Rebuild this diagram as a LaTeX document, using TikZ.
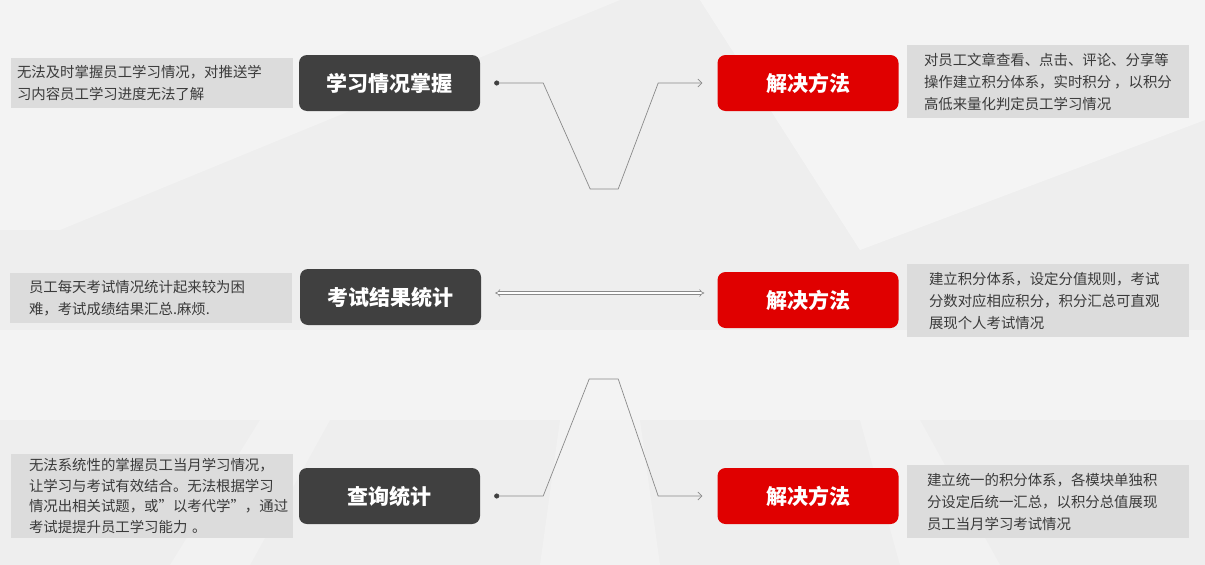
\documentclass[tikz,border=0pt]{standalone}
\usepackage{fontspec}
\setmainfont{Noto Sans CJK SC}
\usetikzlibrary{arrows.meta, positioning, calc}
\definecolor{boxdark}{HTML}{404040}
\definecolor{boxred}{HTML}{E00000}
\definecolor{descbg}{HTML}{DCDCDC}
\definecolor{desctext}{HTML}{3A3A3A}
\definecolor{linegray}{HTML}{8A8A8A}
\definecolor{pagebg}{HTML}{EEEEEE}

\tikzset{
  topic/.style={fill=boxdark, text=white, rounded corners=8pt, minimum width=181pt,
    minimum height=56pt, font=\fontsize{21}{21}\selectfont\bfseries},
  answer/.style={topic, fill=boxred},
  desc/.style={fill=descbg, text=desctext, align=left, inner ysep=0pt,
    font=\fontsize{14.4}{22}\selectfont},
  link/.style={draw=linegray, line width=0.7pt, shorten <=14pt, shorten >=15pt,
    {Circle[length=5pt, color=boxdark]}-{Straight Barb[length=4pt, width=8pt]}},
  dbl/.style={draw=linegray, line width=0.6pt, double=white, double distance=2pt,
    shorten <=14pt, shorten >=13pt, {Implies}-{Implies}},
}

\begin{document}
\begin{tikzpicture}[x=1pt, y=-1pt]
  \useasboundingbox (0,0) rectangle (1205,565);

  % Background
  \fill[pagebg] (0,0) rectangle (1205,565);
  \fill[white, opacity=0.3] (0,0) -- (620,0) -- (60,230) -- (0,230) -- cycle;
  \fill[white, opacity=0.4] (700,0) -- (1205,0) -- (1205,120) -- (860,250) -- cycle;
  \fill[white, opacity=0.3] (0,330) -- (1205,330) -- (1205,420) -- (0,420) -- cycle;
  \fill[white, opacity=0.25] (560,420) -- (640,420) -- (660,565) -- (540,565) -- cycle;
  \fill[white, opacity=0.25] (860,420) -- (920,420) -- (1000,565) -- (900,565) -- cycle;
  \fill[white, opacity=0.25] (260,420) -- (330,420) -- (250,565) -- (170,565) -- cycle;

  % Topics
  \node[topic] (q1) at (389.5,83) {学习情况掌握};
  \node[topic] (q2) at (390.5,297) {考试结果统计};
  \node[topic] (q3) at (389.5,496) {查询统计};

  % Solutions
  \node[answer] (s1) at (808,83) {解决方法};
  \node[answer] (s2) at (808,300) {解决方法};
  \node[answer] (s3) at (808,496) {解决方法};

  % Problems
  \node[desc, inner xsep=6pt, text width=270pt, minimum height=50pt] (p1) at (152,83)
    {无法及时掌握员工学习情况，对推送学\\习内容员工学习进度无法了解};
  \node[desc, inner xsep=19pt, text width=244pt, minimum height=50pt] (p2) at (151,298)
    {员工每天考试情况统计起来较为困\\难，考试成绩结果汇总.麻烦.};
  \node[desc, inner xsep=18pt, text width=246pt, minimum height=84pt,
    font=\fontsize{14.4}{20.7}\selectfont] (p3) at (152,496)
    {无法系统性的掌握员工当月学习情况，\\让学习与考试有效结合。无法根据学习\\情况出相关试题，或\char34 以考代学\char34 ，通过\\考试提提升员工学习能力 。};

  % Answers
  \node[desc, inner xsep=17pt, text width=248pt, minimum height=73pt] (r1) at (1048,81.5)
    {对员工文章查看、点击、评论、分享等\\操作建立积分体系，实时积分\hspace{3pt}，以积分\\高低来量化判定员工学习情况};
  \node[desc, inner xsep=22pt, text width=238pt, minimum height=73pt] (r2) at (1048,300.5)
    {建立积分体系，设定分值规则，考试\\分数对应相应积分，积分汇总可直观\\展现个人考试情况};
  \node[desc, inner xsep=20pt, text width=242pt, minimum height=73pt] (r3) at (1048,501.5)
    {建立统一的积分体系，各模块单独积\\分设定后统一汇总，以积分总值展现\\员工当月学习考试情况};

  % Connectors
  \draw[link] (q1.east) -- ++(63,0) -- ++(47,106) -- ++(28,0) -- ++(40,-106) -- (s1.west);
  \draw[dbl] ([yshift=4pt]q2.east) -- ([yshift=4pt]q2.east -| s2.west);
  \draw[link] (q3.east) -- ++(63,0) -- ++(46,-117) -- ++(29,0) -- ++(40,117) -- (s3.west);
\end{tikzpicture}
\end{document}
